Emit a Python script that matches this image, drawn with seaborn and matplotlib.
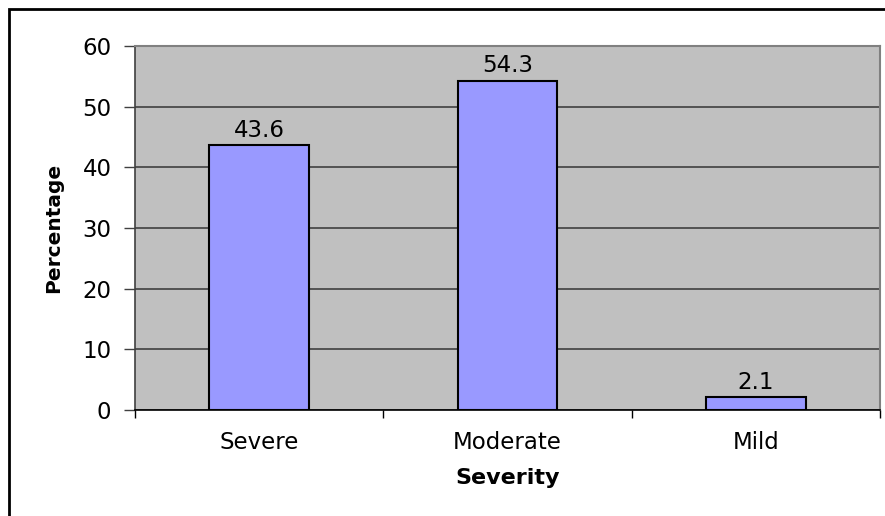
import matplotlib
matplotlib.use("Agg")
import matplotlib.pyplot as plt
from matplotlib.patches import Rectangle
from matplotlib.ticker import FixedLocator
import seaborn as sns
import pandas as pd

categories = ["Severe", "Moderate", "Mild"]
percentages = [43.6, 54.3, 2.1]
y_ticks = [0, 10, 20, 30, 40, 50, 60]

sns.set_theme(style="white")
plt.rcParams["font.family"] = ["DejaVu Sans"]

df = pd.DataFrame({"Severity": categories, "Percentage": percentages})

fig = plt.figure(figsize=(8.85, 5.16), dpi=100)
ax = fig.add_axes([135 / 885, 1 - 410 / 516, (880 - 135) / 885, (410 - 46) / 516])
ax.set_facecolor("#C0C0C0")

sns.barplot(data=df, x="Severity", y="Percentage", order=categories,
            color="#9999FF", edgecolor="black", linewidth=1.5, width=0.4,
            saturation=1, ax=ax, zorder=3)

# value labels above each bar
for patch, val in zip(ax.patches, percentages):
    ax.text(patch.get_x() + patch.get_width() / 2, val + 1.4, f"{val}",
            ha="center", va="baseline", fontsize=16.5, color="black", zorder=4)

ax.set_xlim(-0.5, 2.5)
ax.set_ylim(0, 60)
ax.set_yticks(y_ticks)
ax.yaxis.grid(True, color="#404040", linewidth=1.2, zorder=1)
ax.set_axisbelow(True)

ax.tick_params(axis="y", which="major", left=True, length=8, width=1,
               color="#404040", labelsize=16.5, pad=9, labelcolor="black")
ax.tick_params(axis="x", which="major", bottom=False, length=0,
               labelsize=16.5, pad=15, labelcolor="black")
# category separators on the x axis
ax.xaxis.set_minor_locator(FixedLocator([-0.5, 0.5, 1.5, 2.5]))
ax.tick_params(axis="x", which="minor", bottom=True, length=6, width=1,
               color="black")

for side in ["top", "right"]:
    ax.spines[side].set_color("#808080")
    ax.spines[side].set_linewidth(1.5)
ax.spines["left"].set_color("#404040")
ax.spines["left"].set_linewidth(1.2)
ax.spines["bottom"].set_color("black")
ax.spines["bottom"].set_linewidth(1.2)

ax.set_xlabel("Severity", fontsize=16, fontweight="bold", color="black")
ax.xaxis.set_label_coords(0.5, -0.158)
ax.set_ylabel("Percentage", fontsize=14.5, fontweight="bold", color="black")
ax.yaxis.set_label_coords(-0.0966, 0.5)

# outer chart frame
fig.patches.append(Rectangle((9 / 885, -0.05), 1.2, 1 - 9 / 516 + 0.05,
                             transform=fig.transFigure, fill=False,
                             edgecolor="black", linewidth=2, zorder=10))

fig.savefig("out.png", dpi=100)
